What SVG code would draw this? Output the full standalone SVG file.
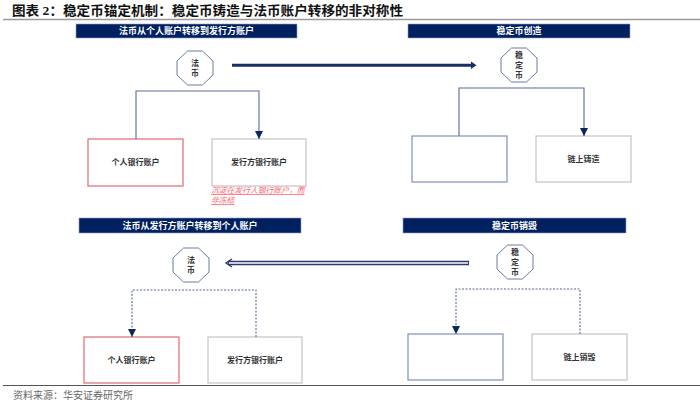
<svg xmlns="http://www.w3.org/2000/svg" width="700" height="406" viewBox="0 0 700 406">
<defs>
<style>
.title{font-family:"Liberation Serif","Noto Sans CJK SC",serif;font-weight:bold;font-size:13px;fill:#111}
.src{font-family:"Liberation Serif","Noto Sans CJK SC",serif;font-size:10px;fill:#666}
.hdr{fill:#002060;stroke:#8fa0c8;stroke-width:0.6}
.hdrt{font-family:"Liberation Sans","Noto Sans CJK SC",sans-serif;font-weight:bold;font-size:9px;fill:#fff;text-anchor:middle}
.oct{fill:#fff;stroke:#6b7ba6;stroke-width:1}
.octt{font-family:"Liberation Sans","Noto Sans CJK SC",sans-serif;font-weight:bold;font-size:8px;fill:#333;text-anchor:middle}
.bt{font-family:"Liberation Sans","Noto Sans CJK SC",sans-serif;font-weight:bold;font-size:8px;fill:#333;text-anchor:middle}
.red{fill:#fff;stroke:#e06c74;stroke-width:1.2}
.gray{fill:#fff;stroke:#c4c4c4;stroke-width:1.2}
.blue{fill:#fff;stroke:#7f90bd;stroke-width:1.2}
.solid{fill:none;stroke:#5a6a9a;stroke-width:1.1}
.dash{fill:none;stroke:#5a6a9a;stroke-width:1.1;stroke-dasharray:2 1.5}
.note{font-family:"Liberation Sans","Noto Sans CJK SC",sans-serif;font-style:italic;font-size:7.8px;fill:#ff5f6f;text-decoration:underline}
</style>
<marker id="ah" viewBox="0 0 10 10" refX="10" refY="5" markerWidth="8" markerHeight="8" markerUnits="userSpaceOnUse" orient="auto">
<path d="M0,0 L10,5 L0,10 Z" fill="#0d2660"/>
</marker>
</defs>
<rect width="700" height="406" fill="#fff"/>
<text class="title" x="12" y="15" textLength="391" lengthAdjust="spacingAndGlyphs">图表 2：稳定币锚定机制：稳定币铸造与法币账户转移的非对称性</text>
<line x1="3" y1="19.5" x2="700" y2="19.5" stroke="#9a9a9a" stroke-width="1.5"/>

<g id="hdr1"><rect class="hdr" x="76" y="24" width="221" height="14"/><text class="hdrt" x="186.5" y="34.2">法币从个人账户转移到发行方账户</text></g>
<g id="hdr2"><rect class="hdr" x="408" y="24" width="222" height="14"/><text class="hdrt" x="519" y="34.2">稳定币创造</text></g>
<g id="hdr3"><rect class="hdr" x="79" y="218" width="222" height="15"/><text class="hdrt" x="190" y="228.7">法币从发行方账户转移到个人账户</text></g>
<g id="hdr4"><rect class="hdr" x="403" y="218" width="223" height="15"/><text class="hdrt" x="514.5" y="228.7">稳定币销毁</text></g>

<g id="oct1"><polygon class="oct" points="187.5,51 202.5,51 213,61 213,75 202.5,85 187.5,85 177,75 177,61"/><text class="octt" x="195" y="66">法</text><text class="octt" x="195" y="76">币</text></g>
<g id="oct2"><polygon class="oct" points="511.5,48 526.5,48 537,58 537,72 526.5,82 511.5,82 501,72 501,58"/><text class="octt" x="519" y="58">稳</text><text class="octt" x="519" y="68">定</text><text class="octt" x="519" y="78">币</text></g>
<g id="oct3"><polygon class="oct" points="183.5,248 198.5,248 209,258 209,272 198.5,282 183.5,282 173,272 173,258"/><text class="octt" x="191" y="263">法</text><text class="octt" x="191" y="273">币</text></g>
<g id="oct4"><polygon class="oct" points="507.5,245 522.5,245 533,255 533,269 522.5,279 507.5,279 497,269 497,255"/><text class="octt" x="515" y="255">稳</text><text class="octt" x="515" y="265">定</text><text class="octt" x="515" y="275">币</text></g>

<g id="box1"><rect class="red" x="88" y="139" width="95" height="47"/><text class="bt" x="135.5" y="165">个人银行账户</text></g>
<g id="box2"><rect class="gray" x="212" y="139" width="94" height="47"/><text class="bt" x="259" y="165">发行方银行账户</text></g>
<g id="box3"><rect class="blue" x="412" y="136" width="95" height="46"/></g>
<g id="box4"><rect class="gray" x="536" y="136" width="95" height="46"/><text class="bt" x="583.5" y="162">链上铸造</text></g>
<g id="box5"><rect class="red" x="84" y="337" width="95" height="46"/><text class="bt" x="131.5" y="363">个人银行账户</text></g>
<g id="box6"><rect class="gray" x="208" y="337" width="94" height="46"/><text class="bt" x="255" y="363">发行方银行账户</text></g>
<g id="box7"><rect class="blue" x="408" y="334" width="95" height="46"/></g>
<g id="box8"><rect class="gray" x="532" y="334" width="95" height="46"/><text class="bt" x="579.5" y="360">链上销毁</text></g>

<g id="note"><text class="note" x="211" y="193">沉淀在发行人银行账户，而</text><text class="note" x="211" y="203">非冻结</text></g>

<g id="connectors">
<path class="solid" d="M136,139 V91 H259 V139" marker-end="url(#ah)"/>
<path class="solid" d="M459,136 V88 H584 V136" marker-end="url(#ah)"/>
<path class="dash" d="M256,337 V290 H132 V337" marker-end="url(#ah)"/>
<path class="dash" d="M580,334 V289 H456 V334" marker-end="url(#ah)"/>
<line x1="232" y1="65.3" x2="472" y2="65.3" stroke="#1a2e66" stroke-width="3"/>
<path d="M471,61.5 L476.5,65.3 L471,69.1 Z" fill="#1a2e66"/>
<line x1="228" y1="263" x2="469" y2="263" stroke="#2a3a6e" stroke-width="4.5"/>
<line x1="229" y1="263" x2="468" y2="263" stroke="#fff" stroke-width="1.6"/>
<path d="M232,259 L226,263 L232,267" fill="none" stroke="#2a3a6e" stroke-width="1.4"/>
</g>

<line x1="3" y1="385.5" x2="700" y2="385.5" stroke="#555" stroke-width="1.2"/>
<text class="src" x="13" y="399">资料来源：华安证券研究所</text>
</svg>
